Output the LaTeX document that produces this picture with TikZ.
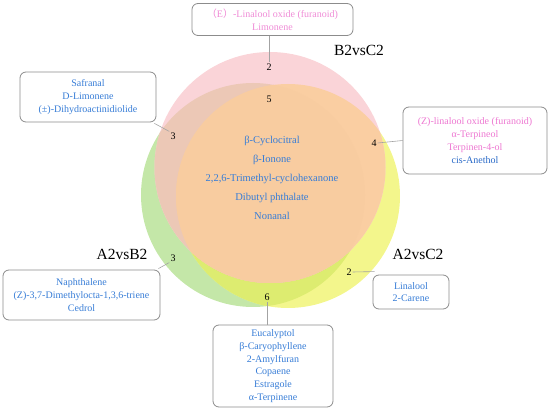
\documentclass[tikz,border=0pt]{standalone}
\usepackage{fontspec}
\setmainfont{Liberation Serif}
\newfontfamily\cjk{Noto Sans CJK SC}
\definecolor{gOnly}{RGB}{196,231,168}
\definecolor{yOnly}{RGB}{243,246,140}
\definecolor{gy}{RGB}{221,236,112}
\definecolor{pOnly}{RGB}{250,212,216}
\definecolor{pg}{RGB}{236,200,182}
\definecolor{py}{RGB}{250,206,162}
\definecolor{pgy}{RGB}{248,204,160}
\definecolor{tblue}{RGB}{55,125,215}
\definecolor{tblue2}{RGB}{40,105,200}
\definecolor{tpink}{RGB}{238,120,210}
\definecolor{tpinkl}{RGB}{240,140,215}
\definecolor{boxgray}{RGB}{140,140,140}
\begin{document}
\begin{tikzpicture}[x=1pt,y=-1pt,
  listbox/.style={draw=boxgray,line width=0.8pt,rounded corners=6pt,fill=white,align=center,
    font=\fontsize{10}{12.7}\selectfont,inner sep=0pt},
  num/.style={font=\fontsize{10}{12}\selectfont,inner sep=1pt},
  title/.style={font=\fontsize{15.5}{18}\selectfont,inner sep=0pt},
  ctext/.style={font=\fontsize{10.5}{12}\selectfont,text=tblue,inner sep=0pt},
  conn/.style={draw=boxgray!80,line width=0.6pt}]
\useasboundingbox (0,0) rectangle (550,411);
% circles (regions painted with flat colours)
\def\gC{(253,195) circle[radius=112]}
\def\yC{(288,196) circle[radius=112]}
\def\pC{(270,167.5) circle[radius=115.5]}
\fill[gOnly] \gC;
\fill[yOnly] \yC;
\begin{scope}
  \clip \gC;
  \fill[gy] \yC;
\end{scope}
\fill[pOnly] \pC;
\begin{scope}
  \clip \pC;
  \fill[pg] \gC;
  \fill[py] \yC;
  \clip \gC;
  \fill[pgy] \yC;
\end{scope}
% titles
\node[title] (tB) at (359,50) {B2vsC2};
\node[title] (tAB) at (122,254) {A2vsB2};
\node[title] (tAC) at (418,254) {A2vsC2};
% numbers
\node[num] (n2t) at (269,67) {2};
\node[num] (n5) at (269,99) {5};
\node[num] (n3a) at (173,136) {3};
\node[num] (n4) at (374,143) {4};
\node[num] (n3b) at (173,258) {3};
\node[num] (n2y) at (349,272) {2};
\node[num] (n6) at (267,297) {6};
% center text
\node[ctext] (c1) at (272,141) {β-Cyclocitral};
\node[ctext] (c2) at (272,160) {β-Ionone};
\node[ctext] (c3) at (272,179) {2,2,6-Trimethyl-cyclohexanone};
\node[ctext] (c4) at (272,197.5) {Dibutyl phthalate};
\node[ctext] (c5) at (272,216) {Nonanal};
% boxes
\node[listbox,minimum width=161,minimum height=32,text=tpinkl] (btop) at (272.5,19.5)
  {{\cjk （}E{\cjk ）}-Linalool oxide (furanoid)\\Limonene};
\node[listbox,minimum width=136,minimum height=50,text=tblue] (bsaf) at (88,97)
  {Safranal\\D-Limonene\\(±)-Dihydroactinidiolide};
\node[listbox,minimum width=144,minimum height=67] (bright) at (475,140.5)
  {\textcolor{tpink}{(Z)-linalool oxide (furanoid)}\\\textcolor{tpink}{α-Terpineol}\\\textcolor{tpink}{Terpinen-4-ol}\\\textcolor{tblue2}{cis-Anethol}};
\node[listbox,minimum width=157,minimum height=50,text=tblue] (bab) at (81.5,295)
  {Naphthalene\\(Z)-3,7-Dimethylocta-1,3,6-triene\\Cedrol};
\node[listbox,minimum width=76,minimum height=34,text=tblue] (bac) at (411,292)
  {Linalool\\2-Carene};
\node[listbox,minimum width=120,minimum height=82,text=tblue] (bbot) at (273,366)
  {Eucalyptol\\β-Caryophyllene\\2-Amylfuran\\Copaene\\Estragole\\α-Terpinene};
% connectors
\draw[conn] (btop.south -| n2t.north) -- (n2t.north);
\draw[conn] ([xshift=-2pt,yshift=-1pt]bsaf.south east) -- (n3a.north west);
\draw[conn] (bright.west) -- (n4.east);
\draw[conn] ([xshift=-2pt,yshift=1pt]bab.north east) -- (n3b.south west);
\draw[conn] ([xshift=2pt,yshift=3pt]bac.north west) -- (n2y.east);
\draw[conn] (bbot.north -| n6.south) -- (n6.south);
\end{tikzpicture}
\end{document}
